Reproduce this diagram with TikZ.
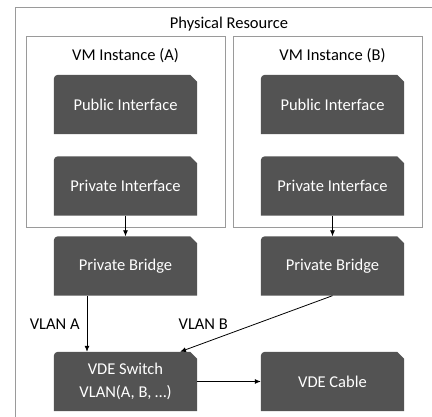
\documentclass[tikz,border=0pt]{standalone}
\usepackage{fontspec}
\setmainfont{Carlito}
\usetikzlibrary{arrows.meta,backgrounds}

\definecolor{boxgray}{HTML}{535353}
\definecolor{framegray}{HTML}{9A9A9A}

\tikzset{
  box/.style={minimum width=143pt, minimum height=59pt, inner sep=0pt,
    text=white, align=center, font=\fontsize{16.5}{23}\selectfont},
  frame/.style={draw=framegray, line width=0.9pt},
  label/.style={font=\fontsize{16.5}{19}\selectfont, inner sep=0pt},
  link/.style={draw, line width=0.8pt, -{Latex[length=6pt,width=5pt]}}
}

\begin{document}
\begin{tikzpicture}[x=1pt, y=-1pt]

    \useasboundingbox (0,0) rectangle (432,417);
    \clip (0,0) rectangle (432,417);

    % frames
    \draw[frame] (15,7) rectangle (450,440);
    \node[label] (phys) at (229,24) {Physical Resource};
    \draw[frame] (26,36) rectangle (225,227);
    \draw[frame] (233,36) rectangle (422,227);
    \node[label] (vmA) at (125.5,56) {VM Instance (A)};
    \node[label] (vmB) at (332.5,56) {VM Instance (B)};

    % boxes
    \node[box] (pubA) at (125.5,104.5) {Public Interface};
    \node[box] (pubB) at (332.5,104.5) {Public Interface};
    \node[box] (privA) at (125.5,186) {Private Interface};
    \node[box] (privB) at (332.5,186) {Private Interface};
    \node[box] (brA) at (125.5,266) {Private Bridge};
    \node[box] (brB) at (332.5,266) {Private Bridge};
    \node[box] (switch) at (125.5,381.5) {VDE Switch\\VLAN(A, B, \dots)};
    \node[box] (cable) at (332.5,381.5) {VDE Cable};

    \begin{scope}[on background layer]
        \foreach \n in {pubA,pubB,privA,privB,brA,brB,switch,cable}
            \fill[boxgray] (\n.south west) -- (\n.south east)
                -- ([yshift=-7pt]\n.north east) -- ([xshift=-7pt]\n.north east)
                -- ([xshift=4pt]\n.north west)
                arc[start angle=90, end angle=180, radius=4pt] -- cycle;
    \end{scope}

    % connectors
    \draw[link] (privA) -- (brA);
    \draw[link] (privB) -- (brB);
    \draw[link] ([xshift=-38.5pt]brA.south) -- ([xshift=-38.5pt]switch.north)
        node[label, midway, left=7pt] {VLAN A};
    \draw[link] (brB.south) -- ([xshift=54.5pt]switch.north)
        node[label, midway, left=28pt] {VLAN B};
    \draw[link] (switch) -- (cable);

\end{tikzpicture}
\end{document}
